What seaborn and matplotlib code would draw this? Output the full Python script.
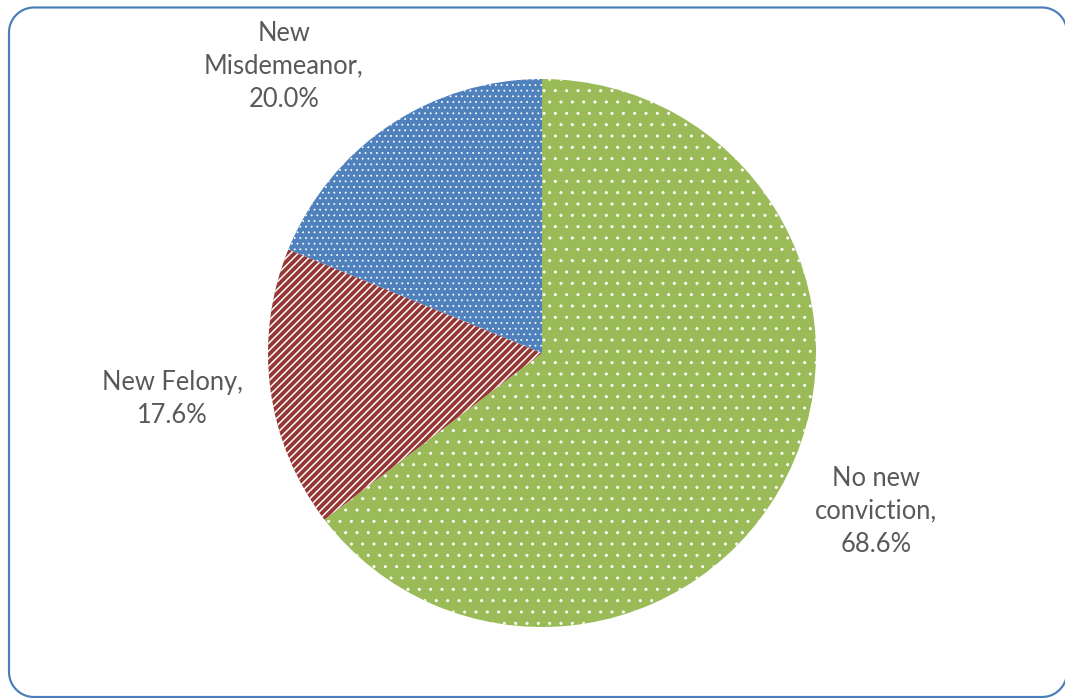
import matplotlib
matplotlib.use("Agg")
import numpy as np
import matplotlib.pyplot as plt
import seaborn as sns
from matplotlib.patches import Polygon
from matplotlib.transforms import IdentityTransform

# Reconviction outcomes (shares as printed on the labels)
categories = ["No new\nconviction,", "New Felony,", "New\nMisdemeanor,"]
shares = [68.6, 17.6, 20.0]

# Styling
colors = ["#9BBB59", "#953735", "#4F81BD"]
hatches = [".", "///", ".."]
hatch_widths = [0.8, 1.6, 0.8]
label_xy = [(1.219, -0.577), (-1.350, -0.168), (-0.942, 1.047)]

sns.set_theme(style="white")
plt.rcParams["font.family"] = ["Lato", "DejaVu Sans"]

DPI = 68
W, H = 1065, 698
fig = plt.figure(figsize=(W / DPI, H / DPI), dpi=DPI)
fig.patch.set_facecolor("white")

ax = fig.add_axes([0, 0, 1, 1])
R = 274.0
cx, cy = 542.0, 353.0

wedges, _ = ax.pie(
    shares,
    colors=colors,
    startangle=90,
    counterclock=False,
    radius=1.0,
    wedgeprops=dict(edgecolor="white", linewidth=0),
)
for w, h, hw in zip(wedges, hatches, hatch_widths):
    w.set_hatch(h)
    w.set_edgecolor("white")
    w.set_linewidth(0)
    if hasattr(w, "set_hatch_linewidth"):
        w.set_hatch_linewidth(hw)

ax.set_xlim(-cx / R, (W - cx) / R)
ax.set_ylim(-(H - cy) / R, cy / R)
ax.set_aspect("equal", adjustable="datalim")
ax.axis("off")

for name, val, (lx, ly) in zip(categories, shares, label_xy):
    ax.text(lx, ly, f"{name}\n{val:.1f}%", ha="center", va="center",
            fontsize=27, color="#595959", linespacing=1.4)


def rounded_rect(x0, y0, x1, y1, r, n=24):
    """Polyline outline of a rectangle with rounded corners (pixel units)."""
    pts = []
    corners = [(x1 - r, y1 - r, 0), (x0 + r, y1 - r, 90),
               (x0 + r, y0 + r, 180), (x1 - r, y0 + r, 270)]
    for ccx, ccy, a0 in corners:
        t = np.radians(np.linspace(a0, a0 + 90, n))
        pts.append(np.column_stack([ccx + r * np.cos(t), ccy + r * np.sin(t)]))
    return np.vstack(pts)


# Chart-area border; its right side sits on the canvas edge
border = Polygon(rounded_rect(9, 1, 1067, 690.5, 25), closed=True,
                 transform=IdentityTransform(), fill=False,
                 edgecolor="#4A7EBB", linewidth=2.3, clip_on=False)
fig.patches.append(border)

fig.savefig("out.png", dpi=DPI)
